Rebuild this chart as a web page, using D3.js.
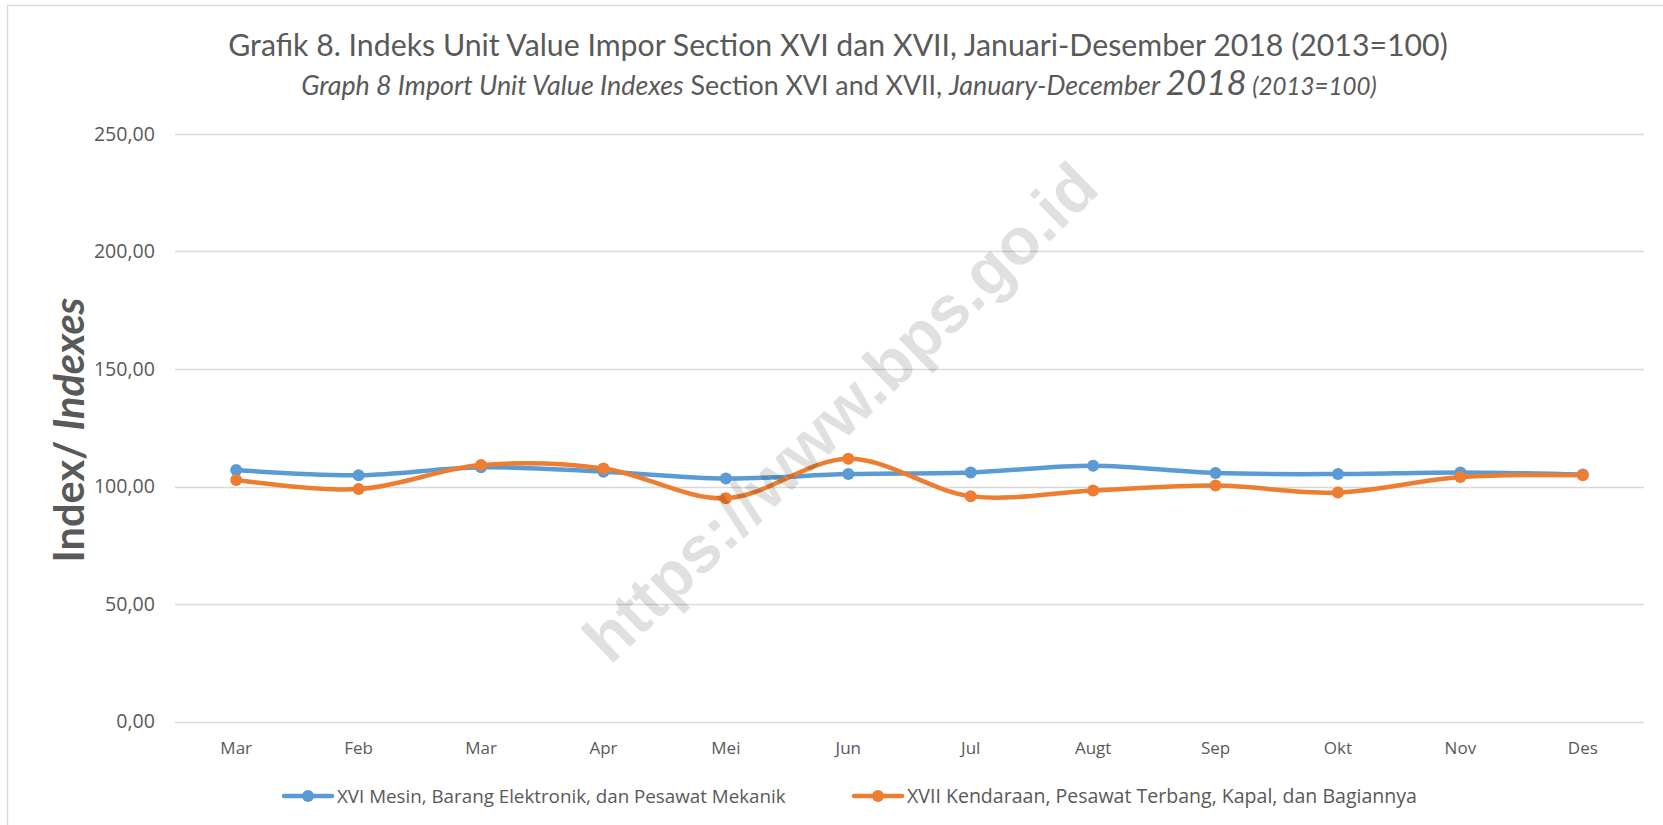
<!DOCTYPE html>
<html>
<head>
<meta charset="utf-8">
<script src="https://cdn.jsdelivr.net/npm/d3@7"></script>
<style>
  body { margin: 0; background: #fff; }
  svg { display: block; }
</style>
</head>
<body>
<svg id="chart" width="1663" height="825"></svg>
<script>
// Data
let months = ['Mar', 'Feb', 'Mar', 'Apr', 'Mei', 'Jun', 'Jul', 'Augt', 'Sep', 'Okt', 'Nov', 'Des'];
let seriesXVI = [107.0, 104.8, 108.2, 106.3, 103.4, 105.3, 106.0, 108.8, 105.7, 105.3, 106.0, 105.1];
let seriesXVII = [102.8, 98.9, 109.1, 107.7, 95.0, 111.8, 95.9, 98.3, 100.4, 97.4, 104.0, 104.8];
let seriesNames = ['XVI Mesin, Barang Elektronik, dan Pesawat Mekanik', 'XVII Kendaraan, Pesawat Terbang, Kapal, dan Bagiannya'];
let seriesColors = ['#5B9BD5', '#ED7D31'];
let yTicks = [0, 50, 100, 150, 200, 250];

let svg = d3.select('#chart');
let textColor = '#595959';
let font = 'Open Sans, sans-serif';

// fit a text element to a width by changing its font size
function fitWidth(sel, w) {
  let cur = parseFloat(sel.style('font-size'));
  let len = sel.node().getComputedTextLength();
  sel.style('font-size', (cur * w / len) + 'px');
}

// chart border
svg.append('rect')
  .attr('x', 7.5).attr('y', 5.5)
  .attr('width', 1670).attr('height', 830)
  .attr('fill', 'none').attr('stroke', '#d9d9d9').attr('stroke-width', 1.5);

// scales
let x = d3.scaleBand().domain(d3.range(months.length)).range([175, 1644]);
let y = d3.scaleLinear().domain([0, 250]).range([721.5, 134]);

// gridlines
svg.append('g')
  .selectAll('line')
  .data(yTicks)
  .join('line')
  .attr('x1', 175).attr('x2', 1644)
  .attr('y1', d => Math.round(y(d)) + 0.5).attr('y2', d => Math.round(y(d)) + 0.5)
  .attr('stroke', '#d9d9d9').attr('stroke-width', 1.3);

// y axis labels
let yAxis = d3.axisLeft(y).tickValues(yTicks).tickSize(0).tickPadding(0)
  .tickFormat(d => d3.format('.2f')(d).replace('.', ','));
let gy = svg.append('g').attr('transform', 'translate(155,0)').call(yAxis);
gy.select('.domain').remove();
gy.selectAll('text')
  .style('font-family', font).style('font-size', '19.6px').attr('fill', textColor);

// x axis labels
let xAxis = d3.axisBottom(x).tickSize(0).tickPadding(0).tickFormat(i => months[i]);
let gx = svg.append('g').attr('transform', 'translate(0,742)').call(xAxis);
gx.select('.domain').remove();
gx.selectAll('text')
  .style('font-family', font).style('font-size', '17px').attr('fill', textColor);

// lines
let line = d3.line()
  .x((d, i) => x(i) + x.bandwidth() / 2)
  .y(d => y(d))
  .curve(d3.curveCatmullRom.alpha(0.5));

[seriesXVI, seriesXVII].forEach(function(data, k) {
  let g = svg.append('g');
  g.append('path')
    .datum(data)
    .attr('d', line)
    .attr('fill', 'none')
    .attr('stroke', seriesColors[k])
    .attr('stroke-width', 4.5)
    .attr('stroke-linecap', 'round');
  g.selectAll('circle')
    .data(data)
    .join('circle')
    .attr('cx', (d, i) => x(i) + x.bandwidth() / 2)
    .attr('cy', d => y(d))
    .attr('r', 6)
    .attr('fill', seriesColors[k]);
});

// titles
let title = svg.append('text')
  .attr('x', 838).attr('y', 56)
  .attr('text-anchor', 'middle')
  .style('font-family', 'Lato, sans-serif').style('font-size', '28px')
  .attr('fill', textColor)
  .text('Grafik 8. Indeks Unit Value Impor Section XVI dan XVII, Januari-Desember 2018 (2013=100)');
fitWidth(title, 1220);

let sub = svg.append('text')
  .attr('x', 839).attr('y', 95)
  .attr('text-anchor', 'middle')
  .style('font-family', 'Lato, sans-serif').style('font-size', '21px')
  .attr('fill', textColor);
sub.append('tspan').style('font-style', 'italic').text('Graph 8 Import Unit Value Indexes');
sub.append('tspan').text(' Section XVI and XVII, ');
sub.append('tspan').style('font-style', 'italic').text('January-December ');
sub.append('tspan').style('font-style', 'italic').style('font-size', '1.3em').text('2018');
sub.append('tspan').style('font-style', 'italic').style('font-size', '0.9em').text(' (2013=100)');
fitWidth(sub, 1076);

// y axis title
let yTitle = svg.append('text')
  .attr('transform', 'translate(84,430) rotate(-90)')
  .attr('text-anchor', 'middle')
  .style('font-family', 'Lato, sans-serif').style('font-size', '34px')
  .style('font-weight', 'bold')
  .attr('fill', textColor);
yTitle.append('tspan').text('Index/ ');
yTitle.append('tspan').style('font-style', 'italic').text('Indexes');
fitWidth(yTitle, 265);

// legend
let legendX = [284, 854];
let legendW = [449, 510];
seriesNames.forEach(function(name, k) {
  let g = svg.append('g').attr('transform', 'translate(' + legendX[k] + ',796)');
  g.append('line')
    .attr('x1', 0).attr('x2', 48)
    .attr('stroke', seriesColors[k]).attr('stroke-width', 4.5).attr('stroke-linecap', 'round');
  g.append('circle').attr('cx', 24).attr('r', 6).attr('fill', seriesColors[k]);
  let t = g.append('text')
    .attr('x', 53).attr('y', 0).attr('dy', '0.35em')
    .style('font-family', font).style('font-size', '16px')
    .attr('fill', textColor)
    .text(name);
  fitWidth(t, legendW[k]);
});

// watermark
svg.append('text')
  .attr('transform', 'translate(840,412) rotate(-44)')
  .attr('text-anchor', 'middle')
  .attr('dy', '0.35em')
  .style('font-family', 'Liberation Sans, Arial, sans-serif')
  .style('font-size', '66px')
  .style('font-weight', 'bold')
  .attr('fill', '#000')
  .attr('fill-opacity', 0.12)
  .text('https://www.bps.go.id');
</script>
</body>
</html>
